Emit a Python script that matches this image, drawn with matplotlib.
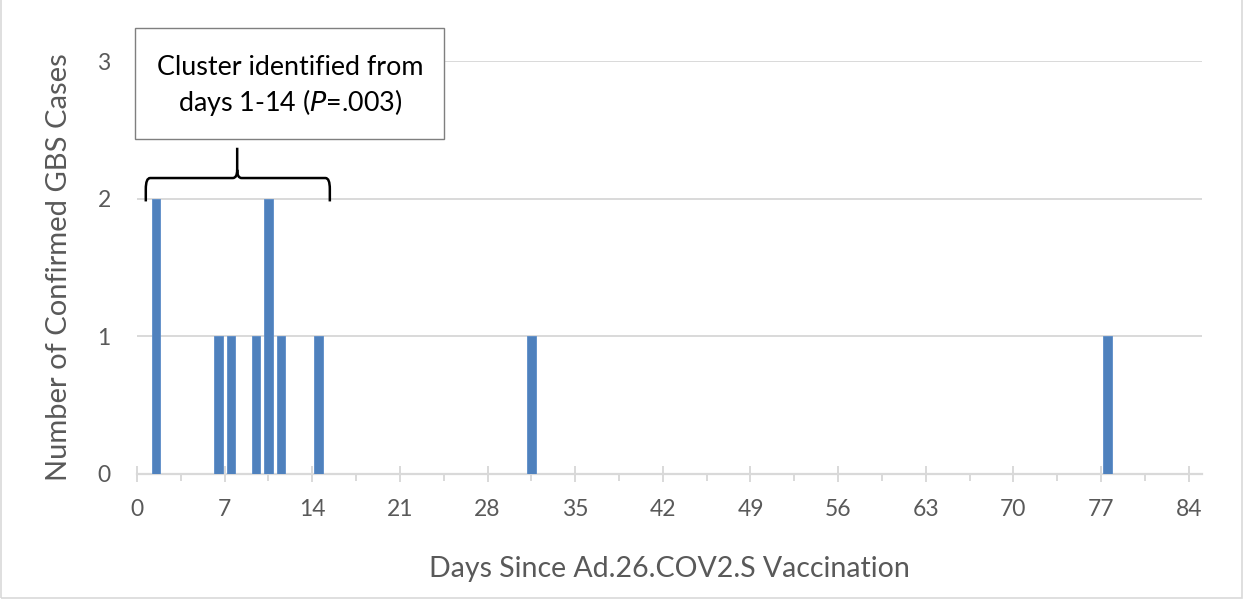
import numpy as np
import matplotlib
matplotlib.use("Agg")
import matplotlib.pyplot as plt
from matplotlib.path import Path
from matplotlib.patches import PathPatch, Rectangle

# days since vaccination and number of confirmed GBS cases on that day
days = [1, 6, 7, 9, 10, 11, 14, 31, 77]
cases = [2, 1, 1, 1, 2, 1, 1, 1, 1]
xticks = list(range(0, 85, 7))
yticks = [0, 1, 2, 3]

plt.rcParams['font.family'] = ['Lato', 'DejaVu Sans']

fig = plt.figure(figsize=(12.48, 6.0), dpi=100)
ax = fig.add_axes([0.1098, 0.21, 0.963 - 0.1098, 0.8983 - 0.21])

gray = '#d9d9d9'
txt = '#595959'

# bars sit in the middle of each one-day bin
ax.bar(np.array(days) + 0.5, cases, width=0.68, color='#4f81bd',
       edgecolor='#5b8cc8', linewidth=0.6, zorder=3)

ax.set_xlim(0, 85.05)
ax.set_ylim(0, 3)
ax.set_xticks(xticks)
ax.set_xticks(np.arange(3.5, 85, 7), minor=True)
ax.set_yticks(yticks)
ax.grid(axis='y', color=gray, linewidth=1.4, zorder=0)
ax.set_axisbelow(True)

for s in ['top', 'right', 'left']:
    ax.spines[s].set_visible(False)
ax.spines['bottom'].set_color(gray)
ax.spines['bottom'].set_linewidth(1.6)

ax.tick_params(axis='x', which='major', direction='inout', length=11.5,
               width=1.4, color=gray, labelsize=16.5, labelcolor=txt, pad=12)
ax.tick_params(axis='x', which='minor', direction='out', length=5,
               width=1.4, color=gray)
ax.tick_params(axis='y', length=0, labelsize=16.5, labelcolor=txt, pad=19)

ax.set_xlabel('Days Since Ad.26.COV2.S Vaccination', fontsize=20.5,
              color=txt, labelpad=26)
ax.set_ylabel('Number of Confirmed GBS Cases', fontsize=21,
              color=txt, labelpad=18)

# white box over the top gridline with the annotation
box = Rectangle((-0.16, 2.435), 24.66, 0.805, facecolor='white',
                edgecolor='#7f7f7f', linewidth=1.0, clip_on=False, zorder=4)
ax.add_patch(box)
ax.text(12.2, 2.955, 'Cluster identified from', ha='center', va='center',
        fontsize=19.4, color='black', zorder=5)
ax.text(12.2, 2.70, 'days 1-14 ($\\it{P}$=.003)', ha='center', va='center',
        fontsize=19.4, color='black', zorder=5)

# curly brace over the cluster
x0, x1, xm = 0.7, 15.4, 8.0
yb, yh, yt = 1.98, 2.15, 2.37
r = 0.35
verts = [(x0, yb), (x0, yh - 0.08), (x0, yh), (x0 + r, yh),
         (xm - r, yh), (xm, yh), (xm, yh + 0.06), (xm, yt),
         (xm, yh + 0.06), (xm, yh), (xm + r, yh),
         (x1 - r, yh), (x1, yh), (x1, yh - 0.08), (x1, yb)]
codes = [Path.MOVETO, Path.LINETO, Path.CURVE3, Path.CURVE3,
         Path.LINETO, Path.CURVE3, Path.CURVE3, Path.LINETO,
         Path.MOVETO, Path.CURVE3, Path.CURVE3,
         Path.LINETO, Path.CURVE3, Path.CURVE3, Path.LINETO]
ax.add_patch(PathPatch(Path(verts, codes), facecolor='none',
                       edgecolor='black', linewidth=1.8, zorder=5,
                       clip_on=False))

# thin frame round the whole chart
fig.patches.append(Rectangle((0.001, 0.003), 0.994, 1.2, transform=fig.transFigure,
                             facecolor='none', edgecolor=gray, linewidth=1.2))

fig.savefig('out.png', dpi=100)
